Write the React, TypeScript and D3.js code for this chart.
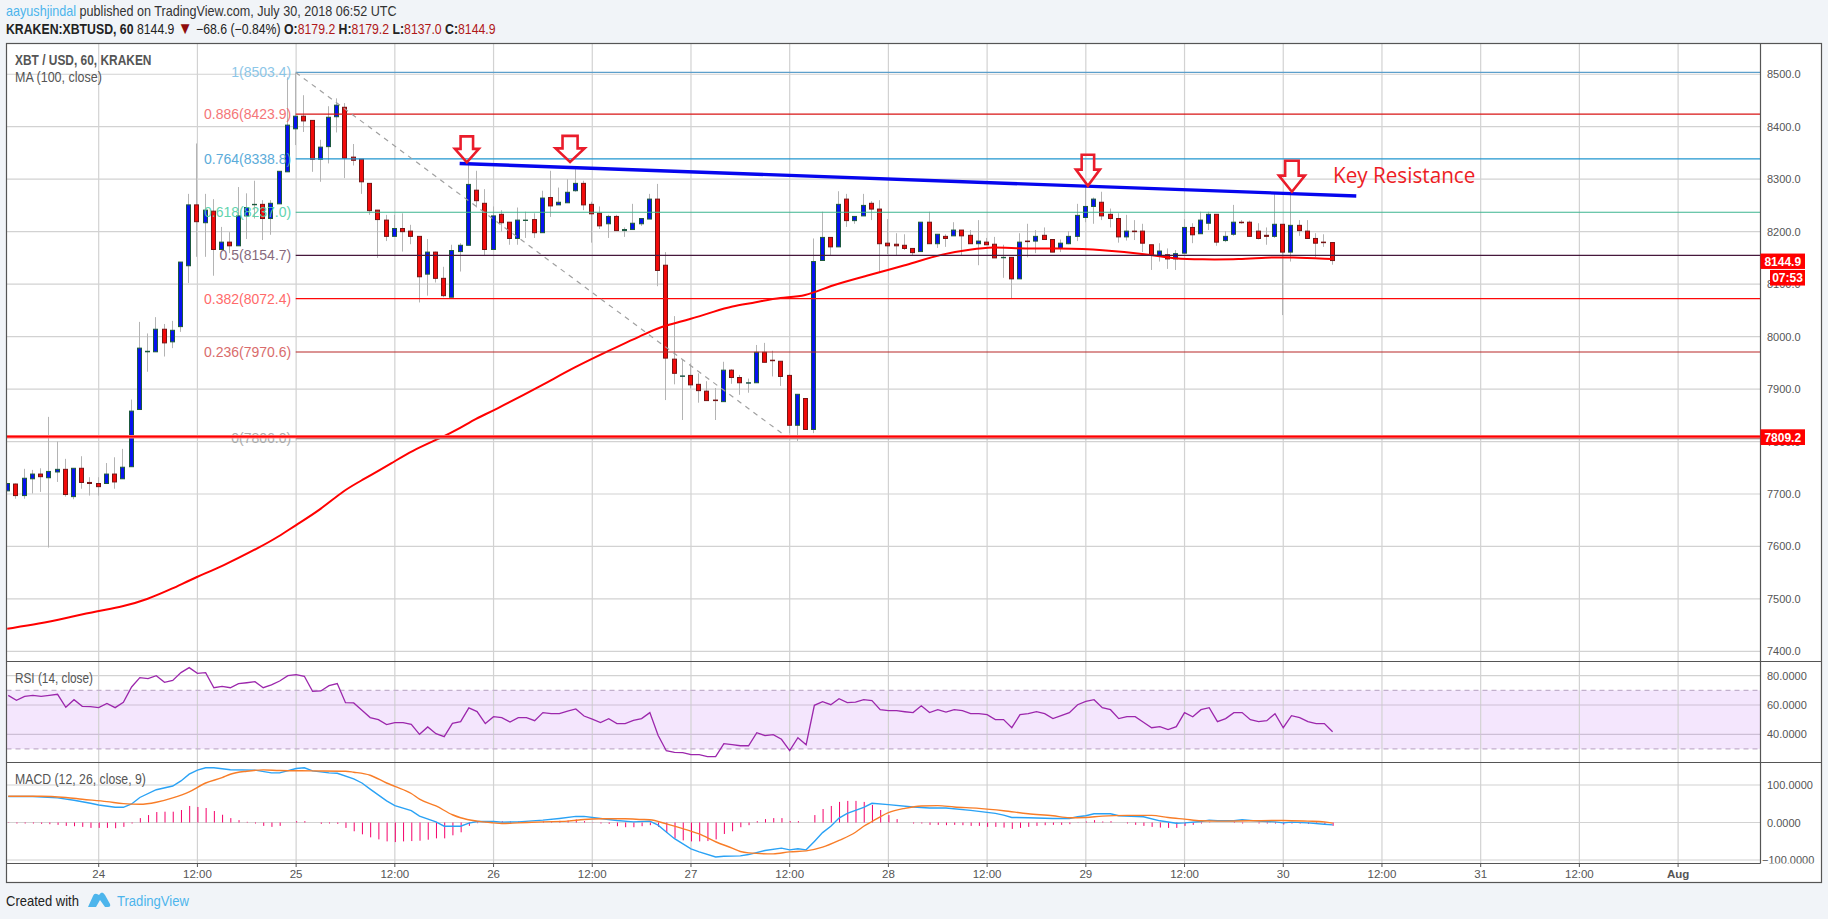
import React, { useEffect, useRef } from 'react';
import * as d3 from 'd3';

const WIDTH = 1828;
const HEIGHT = 919;
const FONT = '"Liberation Sans", Arial, sans-serif';

// hourly candles, first one is hour -11 (counted from July 24 00:00)
const firstHour = -11;
const opens = [
  7706, 7719, 7697, 7729, 7738, 7731, 7742, 7747, 7695, 7749,
  7722, 7720, 7720, 7738, 7729, 7752, 7861, 7971, 7971, 8014,
  7990, 8019, 8135, 8251, 8217, 8239, 8166, 8180, 8173, 8230,
  8252, 8252, 8225, 8253, 8314, 8396, 8420, 8412, 8338, 8362,
  8419, 8437, 8342, 8338, 8292, 8241, 8222, 8191, 8206, 8201,
  8191, 8119, 8161, 8111, 8075, 8162, 8174, 8279, 8254, 8166,
  8233, 8218, 8187, 8222, 8223, 8198, 8265, 8251, 8255, 8278,
  8292, 8252, 8235, 8215, 8229, 8202, 8204, 8215, 8224, 8262,
  8136, 7957, 7925, 7926, 7909, 7896, 7879, 7876, 7936, 7922,
  7912, 7912, 7970, 7955, 7953, 7926, 7831, 7882, 7823, 8145,
  8189, 8171, 8262, 8221, 8230, 8254, 8243, 8178, 8176, 8174,
  8168, 8162, 8218, 8177, 8191, 8192, 8203, 8193, 8177, 8180,
  8176, 8151, 8151, 8110, 8182, 8182, 8193, 8185, 8168, 8177,
  8191, 8227, 8248, 8256, 8233, 8225, 8190, 8201, 8201, 8175,
  8155, 8156, 8148, 8159, 8208, 8196, 8216, 8233, 8183, 8195,
  8218, 8218, 8201, 8193, 8191, 8214, 8161, 8212, 8201, 8187,
  8180, 8179.2,
];
const highs = [
  7720, 7720, 7748, 7746, 7749, 7847, 7800, 7767, 7749, 7772,
  7732, 7732, 7759, 7770, 7786, 7880, 8028, 8006, 8037, 8024,
  8030, 8142, 8272, 8368, 8272, 8262, 8209, 8199, 8285, 8273,
  8297, 8260, 8260, 8315, 8494, 8502, 8460, 8412, 8375, 8439,
  8454, 8445, 8367, 8338, 8292, 8241, 8232, 8232, 8235, 8213,
  8191, 8186, 8162, 8133, 8175, 8178, 8330, 8316, 8281, 8248,
  8241, 8218, 8246, 8238, 8235, 8278, 8316, 8284, 8300, 8319,
  8297, 8257, 8248, 8232, 8232, 8208, 8253, 8225, 8272, 8291,
  8161, 8039, 7957, 7949, 7930, 7915, 7902, 7952, 7938, 7927,
  7920, 7984, 7988, 7973, 7953, 7929, 7890, 7882, 8187, 8238,
  8189, 8277, 8272, 8229, 8272, 8258, 8260, 8224, 8197, 8195,
  8168, 8218, 8238, 8195, 8195, 8218, 8203, 8203, 8222, 8188,
  8190, 8175, 8151, 8197, 8215, 8203, 8208, 8185, 8185, 8201,
  8253, 8287, 8265, 8276, 8244, 8235, 8232, 8222, 8215, 8175,
  8178, 8168, 8165, 8224, 8216, 8238, 8238, 8233, 8201, 8251,
  8222, 8221, 8216, 8208, 8273, 8214, 8272, 8222, 8222, 8197,
  8195, 8179.2,
];
const lows = [
  7706, 7691, 7691, 7701, 7704, 7598, 7723, 7695, 7690, 7710,
  7697, 7697, 7719, 7710, 7729, 7752, 7861, 7933, 7971, 7962,
  7978, 8009, 8102, 8152, 8152, 8116, 8166, 8159, 8173, 8186,
  8225, 8184, 8194, 8253, 8314, 8365, 8390, 8314, 8295, 8330,
  8389, 8302, 8326, 8272, 8232, 8150, 8182, 8191, 8162, 8176,
  8065, 8078, 8103, 8075, 8075, 8124, 8174, 8246, 8155, 8166,
  8200, 8175, 8175, 8188, 8188, 8198, 8228, 8251, 8255, 8276,
  8241, 8179, 8205, 8188, 8202, 8190, 8204, 8211, 8224, 8096,
  7879, 7909, 7841, 7901, 7874, 7878, 7841, 7876, 7910, 7889,
  7893, 7912, 7951, 7924, 7906, 7816, 7801, 7823, 7816, 8145,
  8155, 8171, 8209, 8215, 8230, 8222, 8121, 8157, 8155, 8165,
  8155, 8162, 8177, 8169, 8171, 8192, 8155, 8177, 8136, 8175,
  8150, 8112, 8073, 8110, 8151, 8159, 8185, 8161, 8161, 8176,
  8182, 8218, 8215, 8222, 8208, 8179, 8183, 8184, 8161, 8127,
  8143, 8129, 8127, 8159, 8178, 8196, 8203, 8173, 8180, 8192,
  8215, 8191, 8185, 8175, 8188, 8041, 8143, 8192, 8187, 8151,
  8171, 8137,
];
const closes = [
  7720, 7697, 7730, 7738, 7733, 7743, 7747, 7699, 7749, 7722,
  7720, 7714, 7738, 7723, 7751, 7858, 7978, 7972, 8014, 7988,
  8012, 8142, 8251, 8219, 8241, 8166, 8180, 8173, 8230, 8246,
  8252, 8225, 8254, 8315, 8403, 8420, 8411, 8338, 8361, 8418,
  8441, 8340, 8336, 8295, 8240, 8223, 8191, 8206, 8200, 8191,
  8114, 8161, 8111, 8078, 8164, 8174, 8290, 8259, 8166, 8230,
  8217, 8187, 8222, 8222, 8198, 8264, 8249, 8256, 8275, 8292,
  8251, 8234, 8211, 8229, 8202, 8204, 8216, 8225, 8262, 8126,
  7959, 7930, 7925, 7908, 7897, 7878, 7878, 7936, 7922, 7912,
  7912, 7970, 7951, 7954, 7924, 7831, 7890, 7823, 8143, 8189,
  8171, 8252, 8221, 8229, 8250, 8243, 8177, 8173, 8173, 8168,
  8160, 8218, 8177, 8195, 8187, 8203, 8192, 8177, 8182, 8175,
  8150, 8151, 8110, 8180, 8181, 8191, 8185, 8161, 8178, 8191,
  8231, 8248, 8262, 8230, 8225, 8190, 8201, 8200, 8178, 8155,
  8163, 8148, 8158, 8208, 8194, 8222, 8233, 8180, 8191, 8218,
  8217, 8191, 8187, 8191, 8214, 8161, 8212, 8202, 8187, 8178,
  8179, 8144.9,
];

// MA (100) at these hours
const maHours = [-11, -7, -4, 0, 3, 6, 9, 12, 15, 20, 22, 24, 27, 30, 32, 36, 38, 42, 44, 46, 48, 54, 58, 62, 67, 69, 72, 75, 77, 80, 83, 86, 89, 93, 98, 103, 106, 109, 111, 117, 122, 128, 131, 134, 139, 142, 145, 150];
const maValues = [7443, 7453, 7463, 7477, 7485, 7499, 7519, 7542, 7561, 7601, 7619, 7640, 7669, 7708, 7725, 7761, 7781, 7809, 7825, 7844, 7858, 7907, 7942, 7972, 8009, 8021, 8033, 8048, 8058, 8065, 8075, 8076, 8097, 8114, 8135, 8159, 8166, 8171, 8168, 8168, 8166, 8156, 8148, 8147, 8147, 8151, 8151, 8148];

const rsiValues = [
  66.6, 63.2, 65.9, 66.6, 65.9, 66.6, 67.3, 58.4, 63.6, 59.1,
  58.9, 58.2, 61.1, 58.2, 61.8, 72.3, 78.7, 78, 80, 75.5,
  76.8, 82.1, 85.5, 81.6, 82.1, 71.8, 72.7, 71.8, 74.6, 75.2,
  75.9, 71.8, 73.7, 76.4, 80, 80.7, 79.6, 69.3, 69.6, 73.2,
  74.6, 61.6, 61.4, 56.4, 51.4, 50, 46.6, 48, 48, 46.8,
  40, 45, 40.4, 38.4, 47.5, 48.6, 58, 55.5, 47.3, 52,
  51.4, 48.4, 51.4, 51.4, 49.3, 54.8, 54.1, 54.1, 55.9, 57.3,
  52.5, 50.4, 48, 50.7, 47.3, 47.3, 49.5, 50.7, 54.8, 39.3,
  28.8, 27.7, 27.5, 26.1, 26.1, 24.7, 24.7, 33.6, 32.9, 32.2,
  32.2, 41.1, 39.1, 39.8, 36.6, 28.8, 37.7, 32.9, 59.8, 62.3,
  60.2, 64.3, 61.6, 62, 63.6, 63, 56.8, 56.1, 56.1, 55.4,
  54.8, 59.5, 54.8, 56.8, 55.2, 56.8, 56.1, 54.1, 54.1, 53.4,
  50, 50, 44.5, 53.4, 54.1, 55.4, 54.1, 50.7, 52.7, 54.8,
  60.2, 62.5, 63.6, 58.2, 56.8, 50.7, 52, 52, 48.2, 44.5,
  45.2, 43.2, 45.2, 54.8, 52, 56.8, 58.2, 48.6, 50.7, 54.8,
  54.8, 50, 48.6, 49.3, 54.1, 44.5, 52.7, 51.4, 48.6, 47.3,
  47.3, 41.8,
];

const macdHours = [-11, -8, -5, -3, -1, 0, 2, 3, 4, 5, 7, 9, 10, 11, 12, 13, 14, 16, 19, 21, 22, 24, 25, 26, 28, 29, 31, 32, 33, 35, 36, 38, 39, 41, 42, 44, 45, 46, 48, 49, 51, 54, 56, 58, 59, 61, 63, 65, 67, 68, 69, 70, 72, 73, 75, 76, 78, 79, 81, 83, 84, 85, 86, 87, 88, 89, 90, 91, 93, 94, 96, 99, 101, 103, 106, 109, 110, 111, 113, 116, 118, 119, 120, 121, 123, 124, 127, 129, 131, 132, 134, 135, 136, 138, 139, 141, 142, 143, 144, 145, 147, 149, 150];
const macdValues = [69.4, 69.4, 65.7, 59.5, 51.4, 46.8, 40.5, 40.5, 49.5, 66.7, 87.4, 97.3, 110.8, 128.8, 139.5, 145.9, 145.9, 140.5, 139.6, 132.4, 132.4, 144.1, 145.9, 137.7, 132.4, 131.4, 116.2, 105.4, 89.1, 57.7, 45, 31.5, 17.1, 1.8, -9.9, -9.9, -1.8, 2.7, 2.7, 0.9, 1.8, 6.3, 10.8, 16.2, 16.2, 10.8, 5.4, 1.8, 3.6, -7.2, -25.2, -43.2, -70.2, -78.3, -91.8, -90, -89.1, -85.5, -74.7, -68.4, -72.9, -70.2, -72.9, -50.4, -27, -9.9, 11.7, 24.3, 40.5, 51.3, 47.7, 41.4, 38.7, 38.7, 32.4, 24.3, 19.8, 13.5, 12.6, 10.8, 10.8, 15.3, 18, 23.4, 23.4, 18, 15.3, 4.5, -1.8, -0.9, 2.7, 6.3, 4.5, 4.5, 7.2, 3.6, 2.7, 1.8, -0.9, 0.9, -0.9, -4.5, -6.3];
const signalHours = [-11, -7, -4, -2, 1, 3, 5, 7, 9, 11, 13, 15, 16, 18, 20, 22, 26, 30, 31, 33, 35, 36, 38, 39, 41, 43, 44, 46, 48, 49, 51, 54, 57, 59, 61, 64, 66, 67, 69, 71, 73, 75, 77, 78, 79, 82, 84, 86, 88, 90, 92, 93, 94, 95, 96, 98, 100, 102, 104, 107, 110, 113, 116, 118, 120, 122, 125, 128, 130, 132, 134, 136, 140, 144, 147, 149, 150];
const signalValues = [70.2, 70.2, 66.6, 62.1, 55.8, 50.4, 48.6, 54, 65.7, 81.9, 105.3, 119.7, 128.7, 136.8, 140.4, 138.6, 137.7, 136.8, 134.1, 126, 105.3, 96.3, 77.4, 62.1, 44.1, 20.7, 12.6, 3.6, -0.9, -2.7, -0.9, 1.8, 3.6, 8.1, 9.9, 9.9, 8.1, 7.2, -3.6, -16.2, -30.6, -51.3, -68.4, -77.4, -81, -83.7, -78.3, -75.6, -65.7, -47.7, -26.1, -9.9, 2.7, 15.3, 26.1, 37.8, 44.1, 45, 41.4, 37.8, 31.5, 23.4, 18, 12.6, 13.5, 17.1, 18.9, 18.9, 13.5, 9, 4.5, 3.6, 4.5, 5.4, 3.6, 1.8, -1.8];
const histValues = [
  -0.9, -2.7, -2.7, -2.7, -3.6, -4.5, -6.3, -9, -9.9, -11.7,
  -14.4, -14.4, -14.4, -15.3, -11.7, -2.7, 11.7, 19.8, 27.9, 28.8,
  28.8, 33.3, 44.1, 41.4, 38.7, 30.6, 20.7, 11.7, 6.3, 1.8,
  -2.7, -9, -11.7, -9, 0, 3.6, 3.6, 0, -3.6, -2.7,
  -3.6, -14.4, -23.4, -31.5, -39.6, -45, -50.4, -52.2, -50.4, -49.5,
  -48.6, -45.9, -42.3, -42.3, -34.2, -26.1, -9, -1.8, -0.9, 0,
  3.6, 2.7, 2.7, 1.8, 0, 2.7, 2.7, 4.5, 5.4, 8.1,
  3.6, 0.9, -2.7, -3.6, -9.9, -12.6, -12.6, -9.9, -7.2, -11.7,
  -27.9, -42.3, -47.7, -50.4, -50.4, -49.5, -45, -30.6, -23.4, -12.6,
  -7.2, 3.6, 9, 11.7, 11.7, 3.6, 3.6, 0, 19.8, 36,
  44.1, 54.9, 57.6, 57.6, 54.9, 46.8, 33.3, 19.8, 9, 0,
  -2.7, -2.7, -6.3, -6.3, -7.2, -6.3, -7.2, -9, -9, -11.7,
  -11.7, -13.5, -17.1, -14.4, -11.7, -9, -7.2, -6.3, -6.3, -4.5,
  -0.9, 2.7, 6.3, 2.7, 3.6, 0, -2.7, -6.3, -9, -11.7,
  -13.5, -14.4, -14.4, -9, -6.3, -2.7, -0.9, 0, 0, 1.8,
  -2.7, 0, -2.7, -2.7, -2.7, -5.4, -2.7, -2.7, -3.6, -3.6,
  -6.3, -9,
];

const priceTicks = [8500, 8400, 8300, 8200, 8100, 8000, 7900, 7800, 7700, 7600, 7500, 7400];
const rsiTicks = [80, 60, 40];
const macdTicks = [100, 0, -100];
const timeTickHours = [0, 12, 24, 36, 48, 60, 72, 84, 96, 108, 120, 132, 144, 156, 168, 180, 192];
const timeTickLabels = ['24', '12:00', '25', '12:00', '26', '12:00', '27', '12:00', '28', '12:00', '29', '12:00', '30', '12:00', '31', '12:00', 'Aug'];

const fibRatios = ['1', '0.886', '0.764', '0.618', '0.5', '0.382', '0.236', '0'];
const fibPrices = [8503.4, 8423.9, 8338.8, 8237.0, 8154.7, 8072.4, 7970.6, 7806.0];
const fibLineColors = ['#5c9fcb', '#d81414', '#2196cf', '#3cb48f', '#46183c', '#ff0808', '#b72828', '#7f7f7f'];
const fibTextColors = ['#7fc1e6', '#f4686a', '#4aa3d6', '#52d0a6', '#7a5a70', '#ff5a5a', '#d65c5c', '#a4a4a4'];

const arrowHours = [44.8, 57.35, 120.3, 145.1];
const arrowTipPrices = [8332, 8333, 8287.5, 8276];
const arrowLengths = [26, 26, 31, 31];
const arrowWidths = [24, 29, 24, 26];

// squeeze a text horizontally to the width it has in the picture
const fitWidth = (sel: d3.Selection<SVGTextElement, unknown, null, undefined>, x0: number, y0: number, width: number) => {
  const natural = sel.node()!.getComputedTextLength();
  sel.attr('transform', `translate(${x0},${y0}) scale(${width / natural},1)`);
};

const App: React.FC = () => {
  const svgRef = useRef<SVGSVGElement>(null);

  useEffect(() => {
    if (!svgRef.current) return;
    const svg = d3.select(svgRef.current);
    svg.selectAll('*').remove();

    const left = 6.5;
    const right = 1760.5;
    const outerRight = 1821.5;
    const top = 43.5;
    const mainBottom = 661.5;
    const rsiBottom = 762.5;
    const macdBottom = 863.5;
    const bottom = 882.5;

    // candle centre sits 1px left of the hour grid line
    const x = d3.scaleLinear().domain([0, 192]).range([97.7, 1677.1]);
    const yPrice = d3.scaleLinear().domain([8400, 7700]).range([126.7, 494]);
    const yRsi = d3.scaleLinear().domain([80, 40]).range([675.7, 734.3]);
    const yMacd = d3.scaleLinear().domain([100, -100]).range([785, 860]);

    svg.append('rect').attr('width', WIDTH).attr('height', HEIGHT).attr('fill', '#f1f4f8');
    svg.append('rect').attr('x', left).attr('y', top).attr('width', outerRight - left).attr('height', bottom - top).attr('fill', '#ffffff');

    const defs = svg.append('defs');
    defs.append('clipPath').attr('id', 'pane').append('rect').attr('x', left).attr('y', top).attr('width', right - left).attr('height', macdBottom - top);
    defs.append('clipPath').attr('id', 'macd-axis').append('rect').attr('x', right).attr('y', rsiBottom).attr('width', outerRight - right).attr('height', macdBottom - rsiBottom);

    const chart = svg.append('g').attr('clip-path', 'url(#pane)');

    // rsi band goes under the grid
    chart.append('rect')
      .attr('x', left).attr('y', yRsi(70)).attr('width', right - left).attr('height', yRsi(30) - yRsi(70))
      .attr('fill', '#f4e6fd');

    // grid
    const grid = chart.append('g').attr('stroke', '#d2d2d2').attr('stroke-width', 1.2);
    timeTickHours.forEach(h => {
      grid.append('line').attr('x1', x(h) + 1).attr('x2', x(h) + 1).attr('y1', top).attr('y2', macdBottom);
    });
    priceTicks.forEach(p => {
      grid.append('line').attr('x1', left).attr('x2', right).attr('y1', yPrice(p)).attr('y2', yPrice(p));
    });
    rsiTicks.forEach(v => {
      grid.append('line').attr('x1', left).attr('x2', right).attr('y1', yRsi(v)).attr('y2', yRsi(v)).attr('stroke', v === 80 ? '#d2d2d2' : '#cdbfd6');
    });
    macdTicks.forEach(v => {
      grid.append('line').attr('x1', left).attr('x2', right).attr('y1', yMacd(v)).attr('y2', yMacd(v));
    });
    [70, 30].forEach(v => {
      chart.append('line')
        .attr('x1', left).attr('x2', right).attr('y1', yRsi(v)).attr('y2', yRsi(v))
        .attr('stroke', '#c2b0cc').attr('stroke-width', 1.2).attr('stroke-dasharray', '5,4');
    });

    // candles
    const hours = opens.map((_, i) => firstHour + i);
    const candles = chart.append('g');
    hours.forEach((h, i) => {
      const cx = Math.round(x(h)) + 0.5;
      candles.append('line')
        .attr('x1', cx).attr('x2', cx)
        .attr('y1', yPrice(highs[i])).attr('y2', yPrice(lows[i]))
        .attr('stroke', '#b4b4b4').attr('stroke-width', 1);
    });
    hours.forEach((h, i) => {
      const up = closes[i] >= opens[i];
      const yTop = yPrice(Math.max(opens[i], closes[i]));
      const yBot = yPrice(Math.min(opens[i], closes[i]));
      candles.append('rect')
        .attr('x', Math.round(x(h)) - 1.5).attr('width', 4)
        .attr('y', yTop).attr('height', Math.max(yBot - yTop, 0.4))
        .attr('fill', up ? '#0612f0' : '#f20a0a')
        .attr('stroke', up ? '#1d5a3e' : '#761414').attr('stroke-width', 1);
    });

    // MA 100
    const maLine = d3.line<number>().x((_, i) => x(maHours[i])).y(d => yPrice(d)).curve(d3.curveBasis);
    chart.append('path').datum(maValues).attr('fill', 'none').attr('stroke', '#ff0000').attr('stroke-width', 2).attr('d', maLine);

    // fib levels
    const fibStart = x(24) + 0.6;
    const fibEnd = x(192) + 90;
    fibPrices.forEach((p, i) => {
      chart.append('line')
        .attr('x1', fibStart).attr('x2', fibEnd).attr('y1', yPrice(p)).attr('y2', yPrice(p))
        .attr('stroke', fibLineColors[i]).attr('stroke-width', i === 7 ? 1.6 : 1.2);
    });
    chart.append('line')
      .attr('x1', fibStart).attr('y1', yPrice(8503.4)).attr('x2', x(84)).attr('y2', yPrice(7806))
      .attr('stroke', '#a0a0a0').attr('stroke-width', 1.2).attr('stroke-dasharray', '5,5');
    fibPrices.forEach((p, i) => {
      chart.append('text')
        .attr('x', fibStart - 4.5).attr('y', yPrice(p) + 5)
        .attr('text-anchor', 'end')
        .attr('font-family', FONT).attr('font-size', 14)
        .attr('fill', fibTextColors[i]).attr('opacity', 0.9)
        .text(`${fibRatios[i]}(${p.toFixed(1)})`);
    });

    // support line at 7809.2
    const supportY = yPrice(7809.2);
    chart.append('line').attr('x1', left).attr('x2', right).attr('y1', supportY).attr('y2', supportY).attr('stroke', '#ff8080').attr('stroke-width', 3.4);
    chart.append('line').attr('x1', left).attr('x2', right).attr('y1', supportY).attr('y2', supportY).attr('stroke', '#ff0000').attr('stroke-width', 1.8);

    // drawn resistance line
    chart.append('line')
      .attr('x1', x(44)).attr('y1', yPrice(8330)).attr('x2', x(153)).attr('y2', yPrice(8268))
      .attr('stroke', '#0606ee').attr('stroke-width', 3.4);

    // hollow arrows
    arrowHours.forEach((h, i) => {
      const cx = x(h) + 0.6;
      const tip = yPrice(arrowTipPrices[i]);
      const topY = tip - arrowLengths[i];
      const headY = topY + arrowLengths[i] * 0.48;
      const w = arrowWidths[i] / 2;
      const shaft = w * 0.52;
      const p = d3.path();
      p.moveTo(cx - shaft, topY);
      p.lineTo(cx + shaft, topY);
      p.lineTo(cx + shaft, headY);
      p.lineTo(cx + w, headY);
      p.lineTo(cx, tip);
      p.lineTo(cx - w, headY);
      p.lineTo(cx - shaft, headY);
      p.closePath();
      chart.append('path').attr('d', p.toString()).attr('fill', 'none').attr('stroke', '#ea1c2b').attr('stroke-width', 2.6);
    });

    fitWidth(
      chart.append('text')
        .attr('font-family', '"Open Sans", sans-serif').attr('font-size', 21)
        .attr('fill', '#ed1c24')
        .text('Key Resistance'),
      1333, 183, 142.5,
    );

    // RSI
    const rsiLine = d3.line<number>().x((_, i) => x(firstHour + i) + 1).y(d => yRsi(d));
    chart.append('path').datum(rsiValues).attr('fill', 'none').attr('stroke', '#9c27ac').attr('stroke-width', 1.3).attr('d', rsiLine);

    // MACD
    hours.forEach((h, i) => {
      if (histValues[i] === 0) return;
      chart.append('line')
        .attr('x1', x(h) + 1.5).attr('x2', x(h) + 1.5)
        .attr('y1', yMacd(0)).attr('y2', yMacd(histValues[i]))
        .attr('stroke', '#f5006a').attr('stroke-width', 1);
    });
    const macdLine = d3.line<number>().x((_, i) => x(macdHours[i]) + 1).y(d => yMacd(d));
    const signalLine = d3.line<number>().x((_, i) => x(signalHours[i]) + 1).y(d => yMacd(d)).curve(d3.curveMonotoneX);
    chart.append('path').datum(macdValues).attr('fill', 'none').attr('stroke', '#2aa2f5').attr('stroke-width', 1.4).attr('d', macdLine);
    chart.append('path').datum(signalValues).attr('fill', 'none').attr('stroke', '#f87d28').attr('stroke-width', 1.4).attr('d', signalLine);

    // pane legends
    const legend = (label: string, y: number, weight: string, len: number) => {
      fitWidth(
        svg.append('text')
          .attr('font-family', FONT).attr('font-size', 14).attr('font-weight', weight)
          .attr('fill', '#555555').text(label),
        15, y, len,
      );
    };
    legend('XBT / USD, 60, KRAKEN', 65, 'bold', 136.5);
    legend('MA (100, close)', 82, 'normal', 87);
    legend('RSI (14, close)', 682.5, 'normal', 78);
    legend('MACD (12, 26, close, 9)', 784, 'normal', 131);

    // frame and separators
    const frame = svg.append('g').attr('stroke', '#555555').attr('stroke-width', 1.2);
    frame.append('rect').attr('x', left).attr('y', top).attr('width', outerRight - left).attr('height', bottom - top).attr('fill', 'none');
    [mainBottom, rsiBottom].forEach(y => {
      frame.append('line').attr('x1', left).attr('x2', outerRight).attr('y1', y).attr('y2', y);
    });
    frame.append('line').attr('x1', left).attr('x2', right).attr('y1', macdBottom).attr('y2', macdBottom);
    frame.append('line').attr('x1', right).attr('x2', right).attr('y1', top).attr('y2', macdBottom);

    // price / rsi / macd axis labels
    const axisText = (parent: d3.Selection<any, unknown, null, undefined>, label: string, y: number) => {
      parent.append('text').attr('x', 1767).attr('y', y + 4)
        .attr('font-family', FONT).attr('font-size', 11).attr('fill', '#555555').text(label);
    };
    priceTicks.forEach(p => axisText(svg, p.toFixed(1), yPrice(p)));
    rsiTicks.forEach(v => axisText(svg, v.toFixed(4), yRsi(v)));
    const macdAxis = svg.append('g').attr('clip-path', 'url(#macd-axis)');
    macdTicks.forEach(v => {
      const label = v < 0 ? `\u2212${Math.abs(v).toFixed(4)}` : v.toFixed(4);
      macdAxis.append('text').attr('x', v < 0 ? 1762 : 1767).attr('y', yMacd(v) + 4)
        .attr('font-family', FONT).attr('font-size', 11).attr('fill', '#555555').text(label);
    });

    // time axis
    timeTickHours.forEach((h, i) => {
      svg.append('line').attr('x1', x(h) + 1).attr('x2', x(h) + 1).attr('y1', macdBottom).attr('y2', macdBottom + 3.5).attr('stroke', '#555555');
      svg.append('text')
        .attr('x', x(h) + 1).attr('y', 878)
        .attr('text-anchor', 'middle')
        .attr('font-family', FONT).attr('font-size', 11.5)
        .attr('font-weight', timeTickLabels[i] === 'Aug' ? 'bold' : 'normal')
        .attr('fill', '#555555').text(timeTickLabels[i]);
    });

    // last price tags
    const tag = (x0: number, x1: number, y0: number, y1: number, label: string) => {
      svg.append('rect').attr('x', x0).attr('y', y0).attr('width', x1 - x0).attr('height', y1 - y0).attr('fill', '#ff0000');
      svg.append('text').attr('x', (x0 + x1) / 2).attr('y', (y0 + y1) / 2 + 4.5)
        .attr('text-anchor', 'middle').attr('font-family', FONT).attr('font-size', 12).attr('font-weight', 'bold')
        .attr('fill', '#ffffff').text(label);
    };
    tag(right, 1805, yPrice(8144.9) - 7, yPrice(8144.9) + 8.4, '8144.9');
    tag(1770, 1805, yPrice(8144.9) + 9.4, yPrice(8144.9) + 25, '07:53');
    tag(right, 1805, supportY - 7.4, supportY + 8.3, '7809.2');

    // header
    const line1 = svg.append('text')
      .attr('font-family', FONT).attr('font-size', 14)
      .attr('fill', '#333333');
    line1.append('tspan').attr('fill', '#4db5ec').text('aayushjindal');
    line1.append('tspan').text(' published on TradingView.com, July 30, 2018 06:52 UTC');
    fitWidth(line1, 6, 16, 391);

    const line2 = svg.append('text')
      .attr('font-family', FONT).attr('font-size', 14)
      .attr('fill', '#222222');
    line2.append('tspan').attr('font-weight', 'bold').text('KRAKEN:XBTUSD, 60');
    line2.append('tspan').text(' 8144.9 ');
    line2.append('tspan').attr('fill', '#8f0c0c').attr('font-size', 17).text('\u25BC');
    line2.append('tspan').text(' \u221268.6 (\u22120.84%) ');
    [['O:', '8179.2'], ['H:', '8179.2'], ['L:', '8137.0'], ['C:', '8144.9']].forEach(([k, v], i) => {
      line2.append('tspan').attr('font-weight', 'bold').text(k);
      line2.append('tspan').attr('fill', '#b01818').text(i < 3 ? `${v} ` : v);
    });
    fitWidth(line2, 6, 34, 490);

    // footer
    fitWidth(
      svg.append('text').attr('font-family', FONT).attr('font-size', 14).attr('fill', '#222222').text('Created with'),
      6, 906, 73,
    );
    const logo = d3.path();
    logo.moveTo(88, 907);
    logo.lineTo(93, 896);
    logo.quadraticCurveTo(94, 893, 97, 894);
    logo.lineTo(99, 895);
    logo.quadraticCurveTo(102, 890, 105, 895);
    logo.lineTo(110, 904);
    logo.quadraticCurveTo(111, 907, 108, 907);
    logo.lineTo(105, 907);
    logo.lineTo(100, 900);
    logo.lineTo(96, 907);
    logo.closePath();
    svg.append('path').attr('d', logo.toString()).attr('fill', '#4db5ec');
    fitWidth(
      svg.append('text').attr('font-family', FONT).attr('font-size', 15).attr('fill', '#4db5ec').text('TradingView'),
      117, 906, 72,
    );
  }, []);

  return <svg ref={svgRef} width={WIDTH} height={HEIGHT} style={{ position: 'absolute', left: 0, top: 0, display: 'block' }} />;
};

export default App;
